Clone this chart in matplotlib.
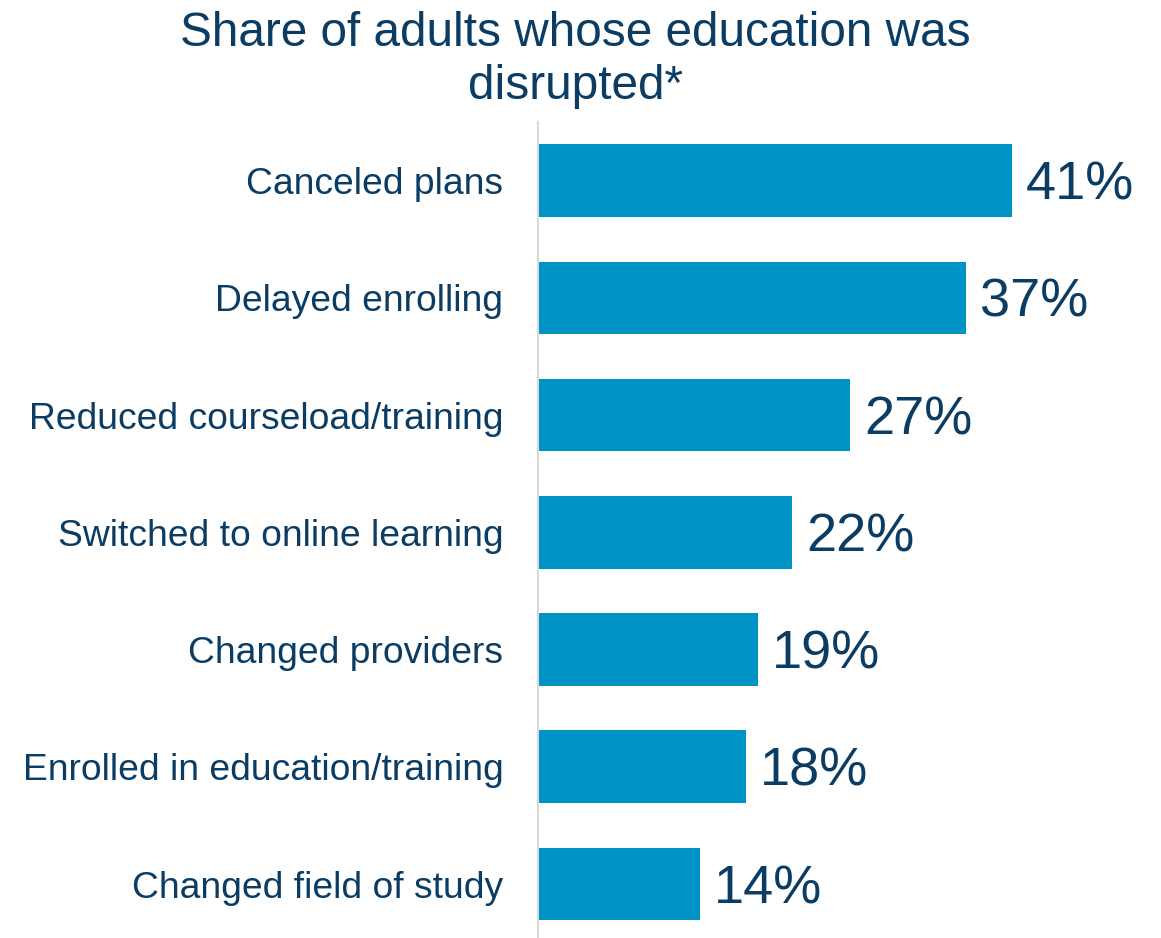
import matplotlib
matplotlib.use("Agg")
import matplotlib.pyplot as plt

categories = ["Canceled plans", "Delayed enrolling", "Reduced courseload/training",
              "Switched to online learning", "Changed providers",
              "Enrolled in education/training", "Changed field of study"]
values = [41, 37, 27, 22, 19, 18, 14]
title = "Share of adults whose education was\ndisrupted*"

plt.rcParams['font.family'] = ['Liberation Sans', 'DejaVu Sans']
text_color = "#0B3C64"
bar_color = "#0093C6"

W, H = 1161, 938
fig = plt.figure(figsize=(W / 100, H / 100), dpi=100)
ax = fig.add_axes([538 / W, 0, (1116 - 538) / W, (938 - 122) / H])

y = list(range(len(categories)))
ax.barh(y, values, height=0.62, color=bar_color)
ax.set_xlim(0, 50)
ax.set_ylim(6.46, -0.5)
ax.set_yticks(y)
ax.set_yticklabels(categories, fontsize=26.8, color=text_color)
ax.tick_params(axis='y', length=0, pad=25)
ax.set_xticks([])
for s in ["top", "right", "bottom"]:
    ax.spines[s].set_visible(False)
ax.spines["left"].set_color("#D9D9D9")
ax.spines["left"].set_linewidth(1.5)

for yi, v in zip(y, values):
    ax.annotate(f"{v}%", xy=(v, yi), xytext=(14, -5), textcoords="offset pixels",
                va="center", ha="left", fontsize=39, color=text_color,
                annotation_clip=False)

fig.text(575 / W, 1 - 60 / H, title, ha="center", va="center", fontsize=34.4,
         color=text_color, linespacing=1.24)

fig.savefig("out.png", dpi=100)
